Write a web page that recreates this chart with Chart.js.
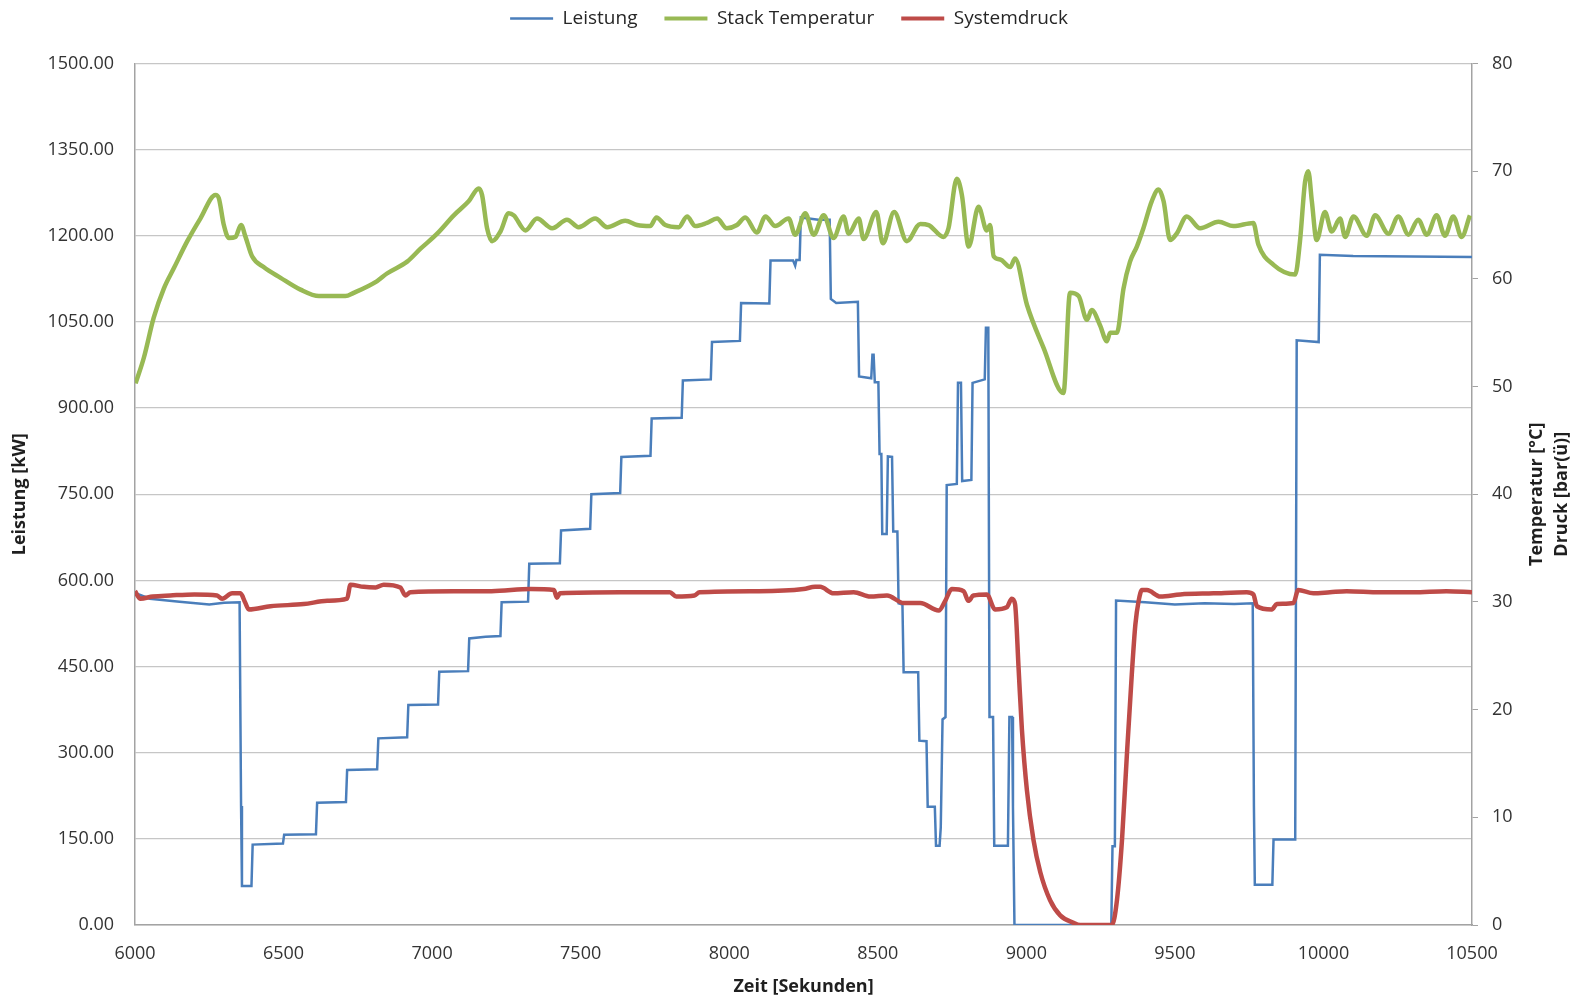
<!DOCTYPE html>
<html>
<head>
<meta charset="utf-8">
<title>Leistung / Stack Temperatur / Systemdruck</title>
<script src="https://cdn.jsdelivr.net/npm/chart.js@4.4.1/dist/chart.umd.min.js"></script>
<style>
    html, body { margin: 0; padding: 0; background: #ffffff; }
    #Contenedor { width: 1578px; height: 1000px; position: relative; }
</style>
</head>
<body>
<div id="Contenedor"><canvas id="ChartLeistung"></canvas></div>
<script>

// Leistung [kW] ueber Zeit [s]
const zeitLeistung = [
    6000, 6050, 6150, 6250, 6300, 6352, 6357, 6360, 6392, 6396,
    6498, 6502, 6609, 6613, 6710, 6714, 6815, 6819, 6916, 6920,
    7020, 7024, 7121, 7125, 7180, 7230, 7234, 7323, 7327, 7430,
    7434, 7532, 7536, 7633, 7637, 7735, 7739, 7840, 7844, 7938,
    7942, 8036, 8040, 8135, 8139, 8215, 8222, 8226, 8237, 8241,
    8300, 8338, 8342, 8360, 8433, 8437, 8478, 8482, 8486, 8490,
    8502, 8506, 8512, 8515, 8530, 8534, 8548, 8552, 8566, 8570,
    8583, 8587, 8636, 8640, 8664, 8668, 8692, 8696, 8708, 8712,
    8718, 8728, 8732, 8766, 8770, 8780, 8784, 8815, 8819, 8860,
    8864, 8872, 8876, 8888, 8892, 8938, 8943, 8952, 8955, 8960,
    9286, 9290, 9298, 9302, 9400, 9500, 9600, 9700, 9762, 9766,
    9769, 9828, 9832, 9905, 9910, 9984, 9988, 10100, 10300, 10500
];
const leistung = [
    578, 568, 563, 558, 561, 562, 207, 68, 68, 140,
    142, 157, 158, 213, 214, 270, 271, 325, 327, 383,
    384, 441, 442, 499, 502, 503, 562, 563, 629, 630,
    687, 690, 750, 752, 815, 817, 882, 883, 948, 950,
    1015, 1017, 1083, 1082, 1157, 1157, 1148, 1158, 1158, 1232,
    1228, 1228, 1090, 1083, 1085, 955, 952, 993, 993, 945,
    945, 820, 820, 681, 681, 816, 815, 685, 685, 560,
    558, 440, 440, 321, 320, 206, 206, 138, 138, 170,
    358, 362, 766, 768, 944, 944, 773, 775, 944, 950,
    1040, 1040, 362, 362, 138, 138, 362, 362, 206, 0,
    0, 137, 137, 565, 562, 558, 560, 559, 560, 207,
    70, 70, 149, 149, 1018, 1015, 1167, 1165, 1164, 1163
];

// Stack Temperatur [°C]
const zeitTemperatur = [
    6002, 6030, 6063, 6097, 6131, 6176, 6220, 6271, 6282, 6299,
    6316, 6338, 6357, 6372, 6394, 6433, 6490, 6557, 6619, 6708,
    6736, 6815, 6848, 6916, 6961, 7017, 7073, 7123, 7157, 7168,
    7185, 7202, 7230, 7258, 7275, 7314, 7353, 7404, 7454, 7493,
    7549, 7589, 7650, 7690, 7734, 7755, 7785, 7830, 7858, 7886,
    7925, 7959, 7992, 8026, 8054, 8093, 8122, 8155, 8200, 8222,
    8256, 8284, 8318, 8351, 8385, 8402, 8436, 8452, 8495, 8517,
    8555, 8598, 8643, 8671, 8721, 8738, 8766, 8783, 8806, 8839,
    8867, 8878, 8890, 8912, 8946, 8962, 9002, 9058, 9125, 9147,
    9176, 9204, 9220, 9248, 9271, 9282, 9305, 9327, 9349, 9372,
    9394, 9422, 9445, 9462, 9484, 9506, 9540, 9585, 9647, 9697,
    9764, 9781, 9832, 9905, 9921, 9938, 9949, 9961, 9977, 10005,
    10028, 10056, 10073, 10101, 10146, 10174, 10219, 10252, 10286, 10319,
    10348, 10381, 10409, 10437, 10465, 10493
];
const temperatur = [
    50.3, 52.7, 56.4, 59.1, 61.0, 63.5, 65.6, 67.8, 67.5, 65.0,
    63.8, 63.9, 65.0, 63.9, 62.1, 61.1, 60.1, 59.0, 58.4, 58.4,
    58.7, 59.8, 60.5, 61.6, 62.8, 64.2, 65.9, 67.2, 68.4, 67.8,
    64.7, 63.5, 64.4, 66.1, 65.9, 64.5, 65.6, 64.7, 65.5, 64.8,
    65.6, 64.8, 65.4, 65.0, 64.9, 65.7, 65.0, 64.8, 65.8, 64.9,
    65.2, 65.6, 64.7, 65.0, 65.7, 64.3, 65.8, 64.9, 65.6, 64.1,
    66.1, 64.1, 65.9, 63.8, 65.8, 64.2, 65.6, 63.7, 66.2, 63.3,
    66.2, 63.5, 65.1, 65.0, 63.9, 64.7, 69.3, 67.8, 63.0, 66.7,
    64.5, 65.0, 62.1, 61.8, 61.1, 61.9, 57.6, 53.6, 49.4, 58.7,
    58.4, 56.2, 57.1, 55.7, 54.2, 55.0, 55.0, 59.1, 61.6, 63.0,
    64.7, 67.2, 68.3, 67.2, 63.6, 64.2, 65.8, 64.7, 65.3, 64.9,
    65.2, 63.2, 61.3, 60.4, 63.5, 69.0, 70.0, 67.2, 63.6, 66.2,
    64.4, 65.6, 63.9, 65.8, 64.0, 65.9, 64.2, 65.8, 64.1, 65.5,
    64.1, 65.9, 64.0, 65.8, 63.9, 65.9
];

// Systemdruck [bar(ü)]
const zeitDruck = [
    6000, 6018, 6060, 6119, 6200, 6276, 6293, 6327, 6355, 6370,
    6383, 6456, 6568, 6647, 6714, 6725, 6770, 6810, 6837, 6893,
    6910, 6927, 7073, 7200, 7331, 7410, 7420, 7430, 7633, 7800,
    7822, 7883, 7900, 8100, 8250, 8289, 8306, 8351, 8419, 8475,
    8531, 8587, 8643, 8705, 8727, 8749, 8789, 8805, 8822, 8867,
    8895, 8934, 8951, 8962, 8974, 8985, 9002, 9024, 9047, 9080,
    9114, 9159, 9181, 9288, 9305, 9322, 9338, 9355, 9367, 9378,
    9389, 9406, 9451, 9518, 9630, 9742, 9764, 9776, 9826, 9843,
    9899, 9915, 9966, 10022, 10078, 10190, 10302, 10414, 10500
];
const druck = [
    31.0, 30.3, 30.5, 30.6, 30.7, 30.6, 30.3, 30.8, 30.8, 30.0,
    29.3, 29.6, 29.8, 30.1, 30.3, 31.6, 31.4, 31.35, 31.6, 31.35,
    30.6, 30.9, 31.0, 31.0, 31.2, 31.1, 30.4, 30.8, 30.9, 30.9,
    30.5, 30.6, 30.9, 31.0, 31.2, 31.4, 31.4, 30.8, 30.9, 30.5,
    30.6, 29.9, 29.9, 29.2, 30.1, 31.2, 31.0, 30.1, 30.6, 30.7,
    29.3, 29.5, 30.3, 29.8, 23.8, 18.2, 12.5, 7.9, 4.9, 2.3,
    0.9, 0.2, 0, 0, 2.3, 7.9, 15.6, 23.3, 27.9, 30.1,
    31.1, 31.1, 30.5, 30.7, 30.8, 30.9, 30.7, 29.6, 29.3, 29.8,
    29.9, 31.1, 30.8, 30.9, 31.0, 30.9, 30.9, 31.0, 30.9
];

// Achsen
const zeitTicks = [6000, 6500, 7000, 7500, 8000, 8500, 9000, 9500, 10000, 10500];
const leistungTicks = [0, 150, 300, 450, 600, 750, 900, 1050, 1200, 1350, 1500];
const rechteTicks = [0, 10, 20, 30, 40, 50, 60, 70, 80];
const rechterTitel = ['Temperatur [°C]', 'Druck [bar(ü)]'];

const FUENTE = '"Open Sans", "DejaVu Sans", sans-serif';
const COLOR_GRID = '#c6c6c6';
const COLOR_EJE = '#a3a3a3';
const COLOR_TEXTO = '#333333';

const toPoints = (xs, ys) => xs.map((x, i) => ({ x: x, y: ys[i] }));

// Titel der rechten Achse (von unten nach oben gelesen) + Legende etwas hoeher
const PluginTitulos = {
    id: 'PluginTitulos',
    afterLayout: (chart) => {
        chart.legend.top -= 25.5;
        chart.legend.bottom -= 25.5;
    },
    afterDraw: (chart) => {
        const s = chart.scales.y1;
        const ctx = chart.ctx;
        const yMid = (s.top + s.bottom) / 2;
        ctx.save();
        ctx.font = 'bold 18px ' + FUENTE;
        ctx.fillStyle = '#1f1f1f';
        ctx.textAlign = 'center';
        ctx.textBaseline = 'middle';
        rechterTitel.forEach((t, i) => {
            ctx.save();
            ctx.translate(s.right - 41 + i * 25, yMid);
            ctx.rotate(-Math.PI / 2);
            ctx.fillText(t, 0, 0);
            ctx.restore();
        });
        ctx.restore();
    }
};

var ChartLeistung = null;

const InitGrafLeistung = () => {

    Chart.defaults.font.family = FUENTE;
    Chart.defaults.color = COLOR_TEXTO;

    const ctxLeistung = document.getElementById('ChartLeistung');
    ChartLeistung = new Chart(ctxLeistung, {
        type: 'line',
        data: {
            datasets: [{
                label: 'Leistung',
                data: toPoints(zeitLeistung, leistung),
                yAxisID: 'y',
                borderColor: '#4a7ebb',
                backgroundColor: '#4a7ebb',
                borderWidth: 2.5,
                pointBorderWidth: 2.5,
                pointRadius: 0,
                order: 3
            }, {
                label: 'Stack Temperatur',
                data: toPoints(zeitTemperatur, temperatur),
                yAxisID: 'y1',
                borderColor: '#98b954',
                backgroundColor: '#98b954',
                borderWidth: 4.5,
                pointBorderWidth: 4,
                pointRadius: 0,
                cubicInterpolationMode: 'monotone',
                order: 2
            }, {
                label: 'Systemdruck',
                data: toPoints(zeitDruck, druck),
                yAxisID: 'y1',
                borderColor: '#be4b48',
                backgroundColor: '#be4b48',
                borderWidth: 4.5,
                pointBorderWidth: 4,
                pointRadius: 0,
                cubicInterpolationMode: 'monotone',
                order: 1
            }]
        },
        options: {
            responsive: true,
            maintainAspectRatio: false,
            animation: false,
            layout: { padding: { top: 7.5, left: 0, right: 0, bottom: 0 } },
            plugins: {
                tooltip: { enabled: false },
                legend: {
                    position: 'top',
                    labels: {
                        usePointStyle: true,
                        pointStyle: 'line',
                        pointStyleWidth: 43,
                        padding: 27,
                        color: '#262626',
                        font: { size: 19 },
                        sort: (a, b) => a.datasetIndex - b.datasetIndex
                    }
                }
            },
            scales: {
                x: {
                    type: 'linear',
                    min: 6000,
                    max: 10500,
                    afterFit: (s) => { s.height = 75; },
                    afterBuildTicks: (s) => { s.ticks = zeitTicks.map(v => ({ value: v })); },
                    grid: { display: false, drawTicks: false },
                    border: { display: true, color: COLOR_EJE, width: 1.5 },
                    ticks: {
                        padding: 18,
                        maxRotation: 0,
                        font: { size: 18 },
                        callback: (v) => String(v)
                    },
                    title: {
                        display: true,
                        text: 'Zeit [Sekunden]',
                        color: '#1f1f1f',
                        font: { size: 18, weight: 'bold' },
                        padding: { top: 0, bottom: 2 }
                    }
                },
                y: {
                    position: 'left',
                    min: 0,
                    max: 1500,
                    afterFit: (s) => { s.width = 135; },
                    afterBuildTicks: (s) => { s.ticks = leistungTicks.map(v => ({ value: v })); },
                    grid: { color: COLOR_GRID, lineWidth: 1.3, drawTicks: false },
                    border: { display: true, color: COLOR_EJE, width: 1.5 },
                    ticks: {
                        padding: 21,
                        font: { size: 18 },
                        callback: (v) => Number(v).toFixed(2)
                    },
                    title: {
                        display: true,
                        text: 'Leistung [kW]',
                        color: '#1f1f1f',
                        font: { size: 18, weight: 'bold' },
                        padding: { top: 9, bottom: 0 }
                    }
                },
                y1: {
                    position: 'right',
                    min: 0,
                    max: 80,
                    afterFit: (s) => { s.width = 106; },
                    afterBuildTicks: (s) => { s.ticks = rechteTicks.map(v => ({ value: v })); },
                    grid: { drawOnChartArea: false, drawTicks: true, tickLength: 6, color: COLOR_EJE },
                    border: { display: true, color: COLOR_EJE, width: 1.5 },
                    ticks: {
                        padding: 14,
                        font: { size: 18 },
                        callback: (v) => String(v)
                    }
                }
            }
        },
        plugins: [PluginTitulos]
    });

}

document.addEventListener('DOMContentLoaded', InitGrafLeistung);

</script>
</body>
</html>
